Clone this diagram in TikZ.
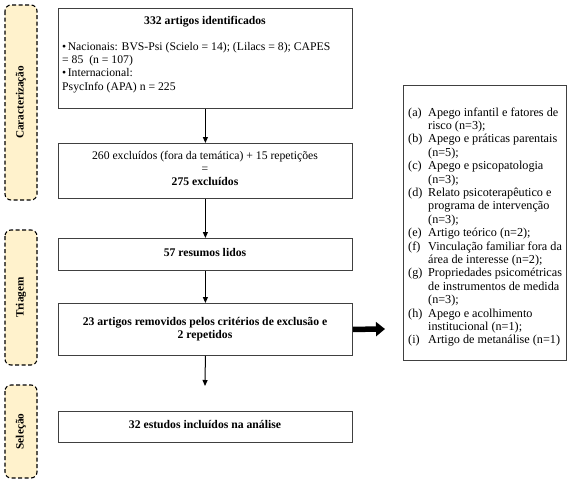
\documentclass[tikz,border=0pt]{standalone}
\usepackage{fontspec}
\setmainfont{Liberation Serif}
\usetikzlibrary{arrows.meta}
\definecolor{labelfill}{HTML}{FFF2CC}
\definecolor{boxline}{HTML}{404040}
\begin{document}
\begin{tikzpicture}[x=1pt,y=-1pt,
  every node/.style={font=\fontsize{11.7}{13.4}\selectfont, inner sep=0pt},
  mainbox/.style={draw=boxline, line width=0.8pt, minimum width=294pt, anchor=north west},
  phase/.style={draw=black, dash pattern=on 4pt off 2.5pt, line width=1.1pt, fill=labelfill,
    rounded corners=6pt, minimum height=32pt, rotate=90,
    font=\fontsize{11.2}{13}\selectfont\bfseries},
  line/.style={anchor=base},
  lline/.style={anchor=base west},
  catline/.style={anchor=base west, font=\fontsize{12.2}{13.4}\selectfont},
  flow/.style={-{Triangle[length=6pt,width=5pt]}, line width=1pt},
  bigarrow/.style={-{Triangle[length=9pt,width=14pt]}, line width=5.5pt},
]
\useasboundingbox (0,0) rectangle (576,485);

% phase labels
\node[phase, minimum width=195pt] (ph1) at (21,102.5) {Caracterização};
\node[phase, minimum width=135pt] (ph2) at (21,297.5) {Triagem};
\node[phase, minimum width=93pt]  (ph3) at (21,431.5) {Seleção};

% main boxes
\node[mainbox, minimum height=100pt] (box1) at (58,8) {};
\node[mainbox, minimum height=55pt]  (box2) at (58,143) {};
\node[mainbox, minimum height=32pt]  (box3) at (58,238) {};
\node[mainbox, minimum height=52pt]  (box4) at (58,303) {};
\node[mainbox, minimum height=31pt]  (box5) at (58,411) {};

% box 1 text
\node[line] (b1t) at (205,24) {\bfseries 332 artigos identificados};
\node[lline] (b1a) at (62,50) {•\hspace{1.5pt}Nacionais: BVS-Psi (Scielo = 14); (Lilacs = 8); CAPES};
\node[lline] (b1b) at (62,63.4) {= 85\ \ (n = 107)};
\node[lline] (b1c) at (62,76.8) {•\hspace{1.5pt}Internacional:};
\node[lline] (b1d) at (62,90.2) {PsycInfo (APA) n = 225};

% box 2 text
\node[line] (b2a) at (205,159) {260 excluídos (fora da temática) + 15 repetições};
\node[line] (b2b) at (205,172) {=};
\node[line] (b2c) at (205,185) {\bfseries 275 excluídos};

% box 3, 4, 5 text
\node[line] (b3a) at (205,256) {\bfseries 57 resumos lidos};
\node[line] (b4a) at (205,325) {\bfseries 23 artigos removidos pelos critérios de exclusão e};
\node[line] (b4b) at (205,338.4) {\bfseries 2 repetidos};
\node[line] (b5a) at (205,428) {\bfseries 32 estudos incluídos na análise};

% connectors
\coordinate (end4) at (205,386);
\coordinate (bigend) at (385,329);
\draw[flow] (box1.south) -- (box2.north);
\draw[flow] (box2.south) -- (box3.north);
\draw[flow] (box3.south) -- (box4.north);
\draw[flow] (box4.south) -- (end4);
\draw[bigarrow] (box4.east) -- (bigend);

% category box
\node[draw=boxline, line width=0.8pt, minimum width=163pt, minimum height=275pt, anchor=north west] (catbox) at (403,85) {};
\foreach \lab/\txt [count=\i from 0] in {
  {(a)}/{Apego infantil e fatores de},
  {}/{risco (n=3);},
  {(b)}/{Apego e práticas parentais},
  {}/{(n=5);},
  {(c)}/{Apego e psicopatologia},
  {}/{(n=3);},
  {(d)}/{Relato psicoterapêutico e},
  {}/{programa de intervenção},
  {}/{(n=3);},
  {(e)}/{Artigo teórico (n=2);},
  {(f)}/{Vinculação familiar fora da},
  {}/{área de interesse (n=2);},
  {(g)}/{Propriedades psicométricas},
  {}/{de instrumentos de medida},
  {}/{(n=3);},
  {(h)}/{Apego e acolhimento},
  {}/{institucional (n=1);},
  {(i)}/{Artigo de metanálise (n=1)}}
{
  \node[catline] (lab\i) at (408,116+13.4*\i) {\lab};
  \node[catline] (cat\i) at (428,116+13.4*\i) {\txt};
}
\end{tikzpicture}
\end{document}
